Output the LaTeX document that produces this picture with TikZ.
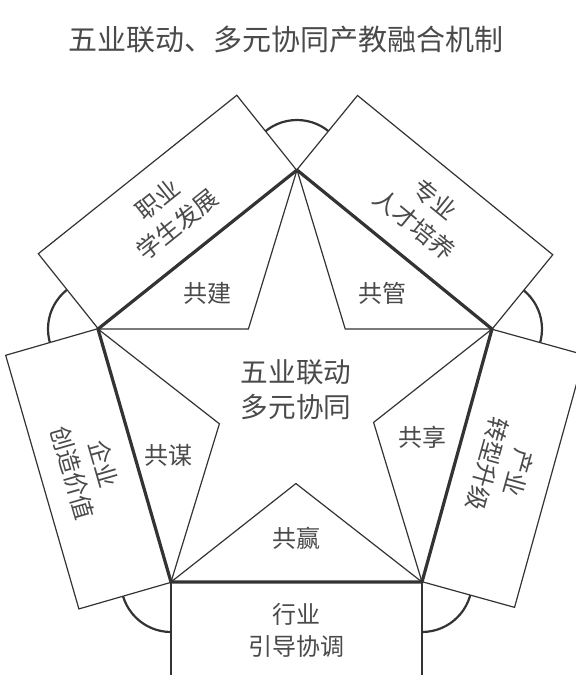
\documentclass[tikz,border=0pt]{standalone}
\usepackage{fontspec}
\newfontfamily\cjkfont{Noto Sans CJK SC}
\definecolor{linegray}{HTML}{333333}
\definecolor{textgray}{HTML}{4A4A4A}

\begin{document}
\begin{tikzpicture}[x=0.5pt, y=-0.5pt,
    rectbox/.style={draw=linegray, line width=0.6pt, fill=white, rectangle, align=center, inner sep=0pt,
      minimum height=48pt, text=textgray, font=\cjkfont\fontsize{12pt}{16pt}\selectfont},
    starlabel/.style={text=textgray, font=\cjkfont\fontsize{12pt}{16pt}\selectfont},
    centertext/.style={align=center, text=textgray, font=\cjkfont\fontsize{13.8pt}{17.5pt}\selectfont},
    titletext/.style={text=textgray, font=\cjkfont\fontsize{14.5pt}{18pt}\selectfont},
    outline/.style={draw=linegray, line width=1.1pt},
    starline/.style={draw=linegray, line width=0.6pt, line join=miter},
    pentaline/.style={draw=linegray, line width=1.6pt, line join=round}]
    \useasboundingbox (0,0) rectangle (575,675);

    \coordinate (V1) at (297,170);
    \coordinate (V2) at (492,329);
    \coordinate (V3) at (422,582);
    \coordinate (V4) at (171,582);
    \coordinate (V5) at (98,329);
    \coordinate (I1) at (intersection of V5--V2 and V1--V4);
    \coordinate (I2) at (intersection of V5--V2 and V1--V3);
    \coordinate (I3) at (intersection of V1--V3 and V2--V4);
    \coordinate (I4) at (intersection of V2--V4 and V3--V5);
    \coordinate (I5) at (intersection of V3--V5 and V1--V4);

    % rounded outline behind the boxes
    \foreach \v in {V1,V2,V3,V4,V5}
        \draw[outline] (\v) circle (25pt);
    \fill[white] (V1) -- (V2) -- (V3) -- (V4) -- (V5) -- cycle;

    \node[rectbox, minimum width=127pt, rotate=38.6] (zhiye) at (167.5,212) {职业\\学生发展};
    \node[rectbox, minimum width=126pt, rotate=-39.2] (zhuanye) at (424.8,212.3) {专业\\人才培养};
    \node[rectbox, minimum width=131pt, rotate=-105.5] (chanye) at (503.3,468.3) {产业\\转型升级};
    \node[rectbox, minimum width=132pt, rotate=-73.9] (qiye) at (88.4,468.8) {企业\\创造价值};
    \node[rectbox, minimum width=125.5pt] (hangye) at (296.5,630) {行业\\引导协调};

    \draw[starline] (V1) -- (I2) -- (V2) -- (I3) -- (V3) -- (I4) -- (V4) -- (I5) -- (V5) -- (I1) -- cycle;
    \draw[pentaline] (V1) -- (V2) -- (V3) -- (V4) -- (V5) -- cycle;

    \node[starlabel] (gongjian) at (207,293) {共建};
    \node[starlabel] (gongguan) at (382,293) {共管};
    \node[starlabel] (gongxiang) at (422,437) {共享};
    \node[starlabel] (gongying) at (296,538) {共赢};
    \node[starlabel] (gongmou) at (168,455) {共谋};
    \node[centertext] (center) at (296,390) {五业联动\\多元协同};

    \node[titletext] (title) at (286,40) {五业联动、多元协同产教融合机制};
\end{tikzpicture}
\end{document}
